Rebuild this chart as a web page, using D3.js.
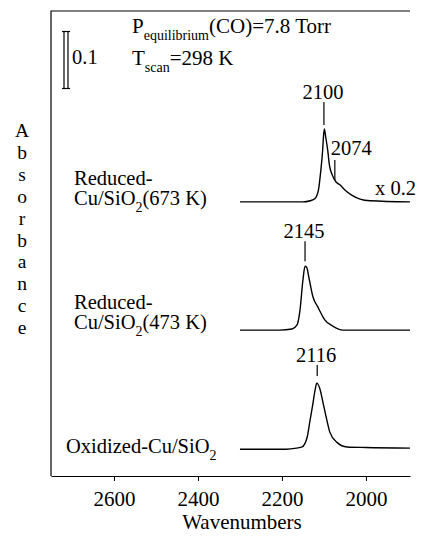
<!DOCTYPE html>
<html>
<head>
<meta charset="utf-8">
<script src="https://cdn.jsdelivr.net/npm/d3@7"></script>
<style>
  body { margin: 0; background: #fff; }
  svg { display: block; }
  text { font-family: "Liberation Serif", "Times New Roman", serif; fill: #000; }
</style>
</head>
<body>
<div id="chart"></div>
<script>
// x axis ticks (wavenumbers, cm-1)
const xTicks = [2600, 2400, 2200, 2000];

// spectra, [wavenumber, absorbance above own baseline]
const oxidized = [
  [2300, 0], [2190, 0], [2165, 0.002], [2152, 0.004], [2140, 0.021], [2133, 0.051],
  [2126, 0.081], [2121, 0.104], [2117, 0.116], [2110, 0.107], [2102, 0.081],
  [2093, 0.051], [2086, 0.030], [2069, 0.012], [2045, 0.004], [2000, 0.003], [1895, 0.002]
];
const reduced473 = [
  [2300, 0], [2205, 0], [2176, 0.002], [2164, 0.009], [2157, 0.035], [2150, 0.088],
  [2145, 0.112], [2141, 0.110], [2136, 0.093], [2126, 0.058], [2114, 0.040],
  [2098, 0.018], [2079, 0.007], [2055, 0], [1895, 0]
];
// shown x 0.2
const reduced673 = [
  [2300, 0], [2150, 0], [2133, 0.002], [2121, 0.006], [2113, 0.021], [2108, 0.051],
  [2103, 0.091], [2101, 0.115], [2099, 0.128], [2096, 0.115], [2091, 0.091],
  [2087, 0.065], [2080, 0.047], [2071, 0.035], [2062, 0.030], [2050, 0.021],
  [2034, 0.012], [2014, 0.005], [1990, 0.002], [1895, 0]
];

// vertical offsets of each trace (absorbance units)
const offsets = [0.047, 0.256, 0.481];
const spectra = [oxidized, reduced473, reduced673];

// peak annotations: label, wavenumber, which trace
const peaks = [
  { label: "2100", wn: 2100, trace: 2 },
  { label: "2145", wn: 2145, trace: 1 },
  { label: "2116", wn: 2116, trace: 0 }
];

const margin = { left: 51, top: 11, right: 11, bottom: 64 };
const width = 421, height = 540;

const svg = d3.select("#chart").append("svg")
  .attr("width", width)
  .attr("height", height);

const x = d3.scaleLinear()
  .domain([2750, 1895])
  .range([margin.left, width - margin.right]);

const y = d3.scaleLinear()
  .domain([0, 0.816])
  .range([height - margin.bottom, margin.top]);

const line = d3.line()
  .x(d => x(d[0]))
  .curve(d3.curveMonotoneX);

// frame: left and top
svg.append("path")
  .attr("d", `M${x(1895)},${y(0.816)}H${x(2750)}V${y(0)}`)
  .attr("fill", "none")
  .attr("stroke", "#000")
  .attr("stroke-width", 1.2);

// bottom axis
const axis = svg.append("g")
  .attr("transform", `translate(0,${y(0)})`)
  .call(d3.axisBottom(x).tickValues(xTicks).tickSize(5).tickSizeOuter(0).tickPadding(10).tickFormat(d3.format("d")));
axis.select(".domain").attr("stroke-width", 1.2);
axis.selectAll(".tick line").attr("stroke-width", 1);
axis.selectAll("text")
  .style("font-family", '"Liberation Serif", serif')
  .attr("font-size", 21);

svg.append("text")
  .attr("x", 242)
  .attr("y", 529)
  .attr("text-anchor", "middle")
  .attr("font-size", 21)
  .text("Wavenumbers");

// y label, stacked letters
const yLabel = "Absorbance".split("");
svg.append("g").selectAll("text")
  .data(yLabel)
  .enter().append("text")
  .attr("x", 22)
  .attr("y", (d, i) => 137 + i * 21.9)
  .attr("text-anchor", "middle")
  .attr("font-size", 19.5)
  .text(d => d);

// traces
spectra.forEach((s, i) => {
  svg.append("path")
    .datum(s)
    .attr("fill", "none")
    .attr("stroke", "#000")
    .attr("stroke-width", 1.4)
    .attr("d", line.y(d => y(d[1] + offsets[i])));
});

// peak marks
const tickGap = [4, 5, 7];
const tickLen = [23, 20, 11];
peaks.forEach((p, i) => {
  const s = spectra[p.trace];
  const top = y(d3.max(s, d => d[1]) + offsets[p.trace]);
  const y1 = top - tickGap[i], y0 = y1 - tickLen[i];
  svg.append("line")
    .attr("x1", x(p.wn)).attr("x2", x(p.wn))
    .attr("y1", y0).attr("y2", y1)
    .attr("stroke", "#000").attr("stroke-width", 1.2);
  svg.append("text")
    .attr("x", x(p.wn) - 1)
    .attr("y", y0 - 3)
    .attr("text-anchor", "middle")
    .attr("font-size", 20.5)
    .text(p.label);
});

// shoulder at 2074
svg.append("line")
  .attr("x1", x(2074)).attr("x2", x(2074))
  .attr("y1", 160).attr("y2", 180)
  .attr("stroke", "#000").attr("stroke-width", 1.2);
svg.append("text")
  .attr("x", x(2074) - 4)
  .attr("y", 155)
  .attr("font-size", 20.5)
  .text("2074");
svg.append("text")
  .attr("x", 375)
  .attr("y", 195)
  .attr("font-size", 20.5)
  .text("x 0.2");

// sample labels
function subLabel(g, xPos, yPos, pre, sub, post) {
  const t = g.append("text")
    .attr("x", xPos)
    .attr("y", yPos)
    .attr("font-size", 20.5);
  t.append("tspan").text(pre);
  t.append("tspan").attr("font-size", 14).attr("dy", 7).text(sub);
  t.append("tspan").attr("dy", -7).text(post);
  return t;
}

svg.append("text").attr("x", 74).attr("y", 185).attr("font-size", 20.5).text("Reduced-");
subLabel(svg, 74, 205, "Cu/SiO", "2", "(673 K)");
svg.append("text").attr("x", 74).attr("y", 309).attr("font-size", 20.5).text("Reduced-");
subLabel(svg, 74, 329, "Cu/SiO", "2", "(473 K)");
subLabel(svg, 66, 453, "Oxidized-Cu/SiO", "2", "");

// conditions
subLabel(svg, 132, 33, "P", "equilibrium", "(CO)=7.8 Torr").attr("font-size", 21);
subLabel(svg, 132, 65, "T", "scan", "=298 K").attr("font-size", 21);

// 0.1 absorbance scale bar
const barTop = y(0.78), barBot = y(0.68);
const bar = svg.append("g").attr("stroke", "#000").attr("stroke-width", 1.2);
[64, 68].forEach(bx => {
  bar.append("line").attr("x1", bx).attr("x2", bx).attr("y1", barTop).attr("y2", barBot);
});
[barTop, barBot].forEach(by => {
  bar.append("line").attr("x1", 62).attr("x2", 70).attr("y1", by).attr("y2", by);
});
svg.append("text")
  .attr("x", 72)
  .attr("y", 64)
  .attr("font-size", 20.5)
  .text("0.1");
</script>
</body>
</html>
